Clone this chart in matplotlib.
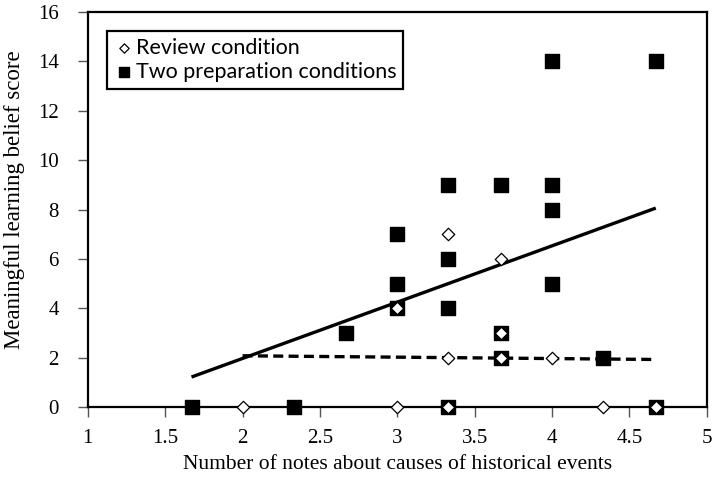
import matplotlib
matplotlib.use("Agg")
import matplotlib.pyplot as plt
import numpy as np

# Review condition (open diamonds)
review_x = [2, 3, 3.33, 4.33, 4.67, 3, 3.33, 3.33, 3.67, 3.67, 3.67, 4]
review_y = [0, 0, 0, 0, 0, 4, 7, 2, 6, 3, 2, 2]

# Two preparation conditions (filled squares)
prep_x = [1.67, 2.33, 2.67, 3, 3, 3, 3.33, 3.33, 3.33, 3.33,
          3.67, 3.67, 3.67, 4, 4, 4, 4, 4.33, 4.67, 4.67]
prep_y = [0, 0, 3, 5, 7, 4, 9, 6, 4, 0,
          9, 3, 2, 14, 9, 8, 5, 2, 14, 0]

# Trend lines (endpoints)
prep_trend_x = [1.67, 4.67]
prep_trend_y = [1.22, 8.06]
review_trend_x = [2.0, 4.67]
review_trend_y = [2.08, 1.93]

x_ticks = [1, 1.5, 2, 2.5, 3, 3.5, 4, 4.5, 5]
x_tick_labels = ["1", "1.5", "2", "2.5", "3", "3.5", "4", "4.5", "5"]
y_ticks = [0, 2, 4, 6, 8, 10, 12, 14, 16]

fig = plt.figure(figsize=(7.14, 4.79), dpi=100)
ax = fig.add_axes([0.123, 0.150, 0.867, 0.825])

ax.plot(prep_trend_x, prep_trend_y, color="black", lw=2.4, solid_capstyle="butt", zorder=2)
ax.plot(review_trend_x, review_trend_y, color="black", lw=2.4, ls=(0, (3, 1.6)), zorder=2)

ax.scatter(prep_x, prep_y, marker="s", s=95, color="black", zorder=3, clip_on=False,
           label="Two preparation conditions")
ax.scatter(review_x, review_y, marker="D", s=40, facecolor="white", edgecolor="black",
           linewidth=0.9, zorder=4, clip_on=False, label="Review condition")

ax.set_xlim(1, 5)
ax.set_ylim(0, 16)
ax.set_xticks(x_ticks)
ax.set_xticklabels(x_tick_labels)
ax.set_yticks(y_ticks)

serif = "Liberation Serif"
for lab in ax.get_xticklabels() + ax.get_yticklabels():
    lab.set_fontfamily(serif)
    lab.set_fontsize(15)
ax.tick_params(axis="both", direction="out", length=7, width=1, color="#555555")
ax.tick_params(axis="x", pad=9)
ax.tick_params(axis="y", pad=14)

for sp in ax.spines.values():
    sp.set_linewidth(1.6)
    sp.set_color("black")

ax.set_xlabel("Number of notes about causes of historical events", fontfamily=serif,
              fontsize=15.5, labelpad=5)
ax.set_ylabel("Meaningful learning belief score", fontfamily=serif, fontsize=16.5)
ax.yaxis.set_label_coords(-0.102, 0.524)

handles, labels = ax.get_legend_handles_labels()
leg = ax.legend(handles[::-1], labels[::-1], loc="upper left", bbox_to_anchor=(0.031, 0.951),
                frameon=True, fancybox=False, edgecolor="black", framealpha=1,
                prop={"family": "Lato", "size": 15.5}, handletextpad=0.05,
                borderpad=0.3, labelspacing=0.2, handlelength=1.0, borderaxespad=0,
                markerscale=0.75)
leg.get_frame().set_linewidth(1.6)

fig.savefig("out.png", dpi=100)
